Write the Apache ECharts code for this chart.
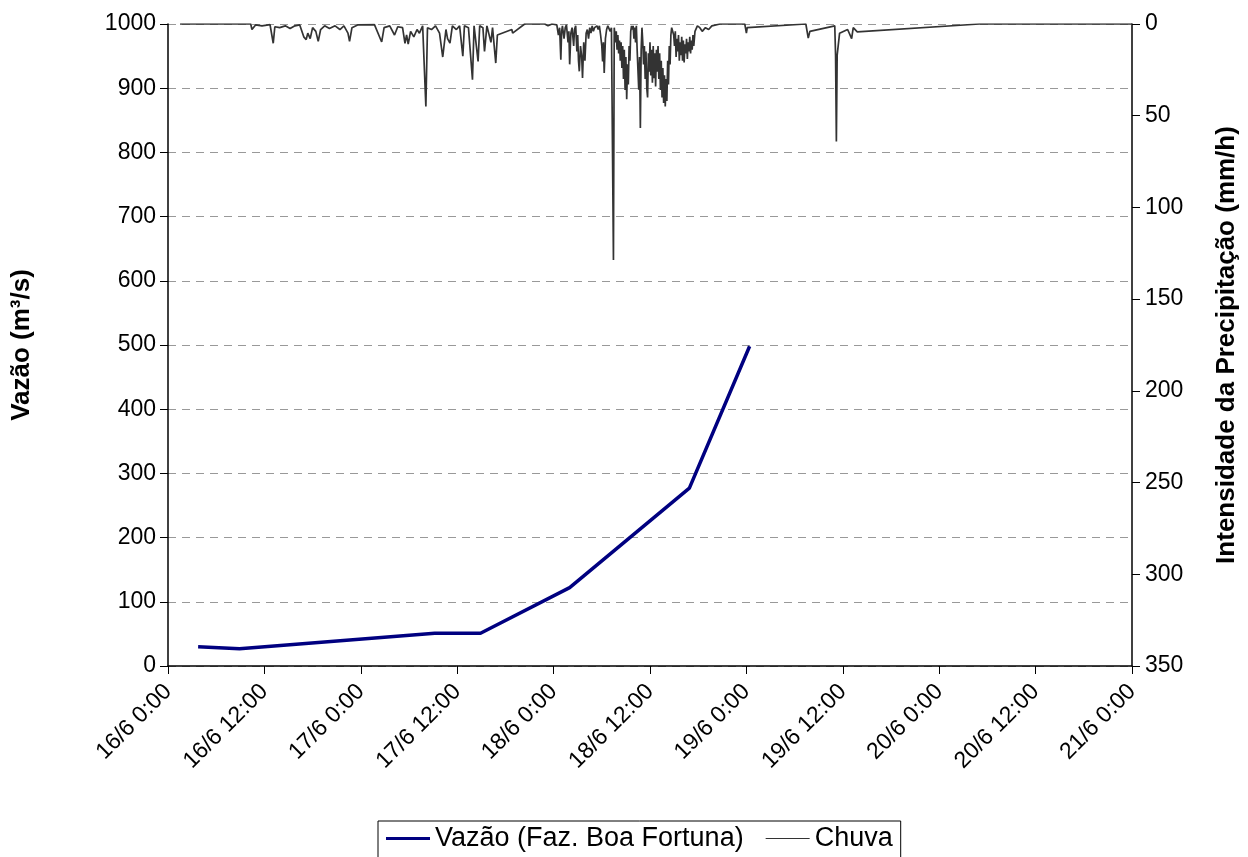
<!DOCTYPE html>
<html>
<head>
<meta charset="utf-8">
<script src="https://cdn.jsdelivr.net/npm/echarts@6/dist/echarts.min.js"></script>
<style>
  html, body { margin: 0; padding: 0; background: #fff; }
  #chart { width: 1248px; height: 857px; }
</style>
</head>
<body>
<div id="chart"></div>
<script>
// x positions are hours counted from 16/6 0:00
const tickLabels = ['16/6 0:00', '16/6 12:00', '17/6 0:00', '17/6 12:00', '18/6 0:00',
    '18/6 12:00', '19/6 0:00', '19/6 12:00', '20/6 0:00', '20/6 12:00', '21/6 0:00'];

// Vazão (m³/s): [hour, value]
const vazao = [[3.75, 30], [8.9, 27], [33.2, 51], [38.9, 51], [50.0, 122], [64.9, 277], [72.4, 498]];

// Chuva (mm/h): [hour, value]
const chuva = [
    [1.5, 0], [10.3, 0], [10.45, 3], [10.9, 0.5], [11.7, 1], [12.7, 0.3], [13.1, 10.5], [13.3, 1.5],
    [13.9, 2], [14.6, 1], [15.2, 2.5], [15.8, 1], [16.4, 0.5], [16.9, 7], [17.2, 8.5], [17.4, 5],
    [17.7, 8], [18.0, 2], [18.4, 4], [18.7, 9.5], [19.0, 3], [19.5, 1], [20.1, 2.5], [20.8, 1],
    [21.4, 3], [21.9, 1], [22.4, 5], [22.6, 9.5], [22.9, 2], [23.6, 0.5], [25.7, 0.3], [26.6, 9.8],
    [26.9, 2], [27.6, 1], [28.2, 6], [28.6, 1.5], [29.2, 2], [29.5, 10.5], [29.7, 6], [29.9, 11],
    [30.2, 4], [30.6, 7], [31.0, 3], [31.3, 5], [31.7, 1], [32.1, 45], [32.3, 2], [32.8, 3],
    [33.3, 1], [33.8, 5], [34.2, 18], [34.6, 3], [34.8, 8], [35.1, 10.4], [35.4, 1], [35.9, 3],
    [36.3, 1], [36.7, 17.6], [36.9, 1], [37.4, 2], [37.9, 30.4], [38.1, 1], [38.6, 20.4], [38.8, 1],
    [39.2, 2], [39.4, 14.9], [39.7, 1], [40.2, 10], [40.4, 2], [40.8, 21.3], [41.0, 6], [42.8, 3],
    [42.9, 5], [44.4, 0], [46.9, 0], [47.3, 1], [47.8, 0],
    [48.4, 0.5], [48.6, 6], [48.75, 2], [48.9, 19.5], [49.0, 4], [49.1, 1], [49.3, 8], [49.45, 2],
    [49.6, 0.5], [49.8, 10], [49.9, 4], [50.0, 22], [50.15, 5], [50.3, 2], [50.5, 12], [50.6, 3],
    [50.75, 1], [50.9, 15], [51.0, 6], [51.1, 20], [51.2, 25.8], [51.35, 12], [51.5, 18], [51.6, 29.4],
    [51.75, 10], [51.9, 20], [52.05, 5], [52.2, 3], [52.35, 8], [52.5, 2], [52.65, 5], [52.8, 1],
    [52.95, 4], [53.1, 2], [53.25, 3], [53.4, 1], [53.55, 3], [53.7, 1], [53.85, 6], [54.0, 12],
    [54.1, 20.4], [54.2, 10], [54.3, 26.7], [54.45, 8], [54.6, 3], [54.75, 1], [54.9, 2], [55.05, 4],
    [55.2, 2], [55.35, 3], [55.45, 128.7], [55.55, 2],
    [55.6, 3], [55.7, 10], [55.8, 4], [55.9, 14], [56.0, 6], [56.1, 16], [56.2, 9], [56.3, 20],
    [56.4, 10], [56.5, 24], [56.6, 12], [56.7, 30], [56.8, 14], [56.9, 36], [57.0, 18], [57.1, 41],
    [57.2, 22], [57.3, 33], [57.4, 12], [57.5, 20], [57.6, 4], [57.7, 1], [57.8, 3], [57.9, 1],
    [58.0, 8], [58.1, 2], [58.2, 10], [58.3, 1], [58.4, 14], [58.5, 25], [58.6, 35.8], [58.7, 18],
    [58.8, 56.7], [58.9, 14], [59.0, 2], [59.1, 10], [59.2, 22], [59.3, 12], [59.4, 30], [59.5, 15],
    [59.6, 35], [59.7, 40], [59.8, 16], [59.9, 26], [60.0, 10], [60.1, 28], [60.2, 14], [60.3, 32],
    [60.4, 12], [60.5, 29.5], [60.6, 16], [60.7, 34], [60.8, 14], [60.9, 26], [61.0, 12], [61.1, 30],
    [61.2, 16], [61.3, 36], [61.4, 20], [61.5, 40], [61.6, 24], [61.7, 43], [61.8, 28], [61.9, 45],
    [62.0, 30], [62.1, 42], [62.2, 20], [62.3, 33], [62.4, 12], [62.5, 22], [62.6, 6], [62.7, 2],
    [62.8, 1], [62.95, 6], [63.05, 12], [63.15, 4], [63.25, 18], [63.35, 8],
    [63.45, 15], [63.55, 6], [63.65, 20], [63.75, 10], [63.85, 17], [63.95, 7], [64.05, 20], [64.15, 9],
    [64.25, 21], [64.35, 11], [64.45, 16], [64.55, 8], [64.65, 19], [64.75, 10], [64.85, 15], [64.95, 7],
    [65.05, 16], [65.15, 9], [65.25, 14], [65.35, 6], [65.45, 12], [65.6, 4], [65.75, 3], [65.9, 1],
    [66.2, 2], [66.5, 4], [66.9, 2], [67.3, 3], [67.7, 1], [68.7, 0], [71.8, 0], [72.0, 5],
    [72.1, 2], [79.4, 0], [79.7, 7.7], [79.9, 4], [83.0, 1], [83.1, 17], [83.2, 64], [83.3, 17],
    [83.6, 5], [84.6, 3], [85.1, 8], [85.3, 2], [85.8, 4.3], [101.0, 0], [120.0, 0]
];

const font = 'Liberation Sans, Arial, sans-serif';
const chart = echarts.init(document.getElementById('chart'));

const option = {
    animation: false,
    backgroundColor: '#fff',
    textStyle: { fontFamily: font, color: '#000' },
    grid: { left: 168, right: 115, top: 24, bottom: 191, containLabel: false },
    legend: {
        top: 821,
        left: 378,
        itemGap: 22,
        itemWidth: 44,
        itemHeight: 14,
        padding: [4, 8, 10, 8],
        borderColor: '#000',
        borderWidth: 1,
        borderRadius: 0,
        textStyle: { fontFamily: font, fontSize: 27, color: '#000' },
        data: [
            { name: 'Vazão (Faz. Boa Fortuna)', icon: 'path://M0,5.5 L44,5.5 L44,8.5 L0,8.5 Z' },
            { name: 'Chuva', icon: 'path://M0,6.5 L44,6.5 L44,7.5 L0,7.5 Z' }
        ]
    },
    xAxis: {
        type: 'value',
        min: 0,
        max: 120,
        interval: 12,
        axisLine: { show: true, onZero: false, lineStyle: { color: '#000', width: 1.5 } },
        axisTick: { show: true, inside: false, length: 8, lineStyle: { color: '#000' } },
        splitLine: { show: false },
        axisLabel: {
            rotate: 45,
            fontSize: 23,
            fontFamily: font,
            color: '#000',
            margin: 22,
            formatter: v => tickLabels[Math.round(v / 12)]
        }
    },
    yAxis: [
        {
            type: 'value',
            min: 0,
            max: 1000,
            interval: 100,
            name: 'Vazão (m³/s)',
            nameLocation: 'middle',
            nameGap: 133,
            nameTextStyle: { fontSize: 26, fontWeight: 'bold', fontFamily: font, color: '#000' },
            axisLine: { show: true, lineStyle: { color: '#000', width: 1.5 } },
            axisTick: { show: true, length: 8, lineStyle: { color: '#000' } },
            axisLabel: { fontSize: 23, fontFamily: font, color: '#000', margin: 12, formatter: v => String(v) },
            splitLine: { show: true, lineStyle: { color: '#999', type: [8, 6], width: 1 } }
        },
        {
            type: 'value',
            min: 0,
            max: 350,
            interval: 50,
            inverse: true,
            position: 'right',
            name: 'Intensidade da Precipitação (mm/h)',
            nameLocation: 'middle',
            nameGap: 82,
            nameRotate: 90,
            nameTextStyle: { fontSize: 26, fontWeight: 'bold', fontFamily: font, color: '#000' },
            axisLine: { show: true, lineStyle: { color: '#000', width: 1.5 } },
            axisTick: { show: true, length: 8, lineStyle: { color: '#000' } },
            axisLabel: { fontSize: 23, fontFamily: font, color: '#000', margin: 13 },
            splitLine: { show: false }
        }
    ],
    series: [
        {
            name: 'Vazão (Faz. Boa Fortuna)',
            type: 'line',
            yAxisIndex: 0,
            data: vazao,
            symbol: 'none',
            lineStyle: { color: '#000080', width: 3.5 },
            itemStyle: { color: '#000080' },
            z: 3
        },
        {
            name: 'Chuva',
            type: 'line',
            yAxisIndex: 1,
            data: chuva,
            symbol: 'none',
            lineStyle: { color: '#333', width: 1.7 },
            itemStyle: { color: '#333' },
            z: 2
        }
    ]
};

chart.setOption(option);
</script>
</body>
</html>
